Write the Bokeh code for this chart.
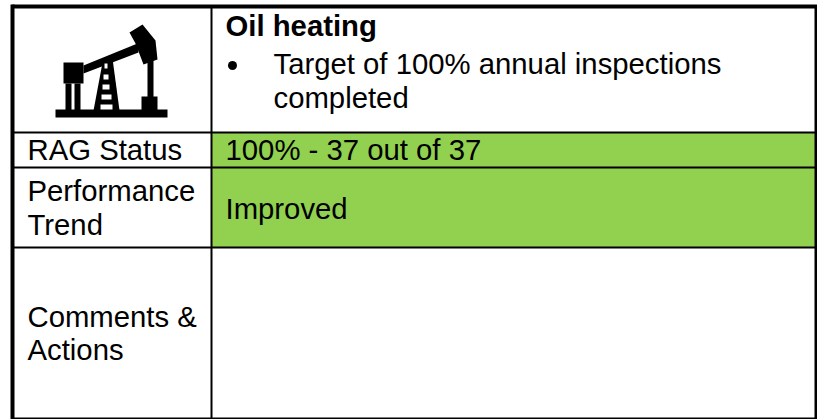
from bokeh.plotting import figure
from bokeh.models import Range1d
from bokeh.embed import file_html
from bokeh.resources import INLINE
from bokeh.core.properties import value

W, H = 817, 419

title = "Oil heating"
bullet_lines = ["Target of 100% annual inspections", "completed"]
row_labels = ["RAG Status", "Performance", "Trend", "Comments &", "Actions"]
rag_text = "100% - 37 out of 37"
trend_text = "Improved"
GREEN = "#92d050"
FONT = "Liberation Sans"

p = figure(width=W, height=H, output_backend="svg", toolbar_location=None,
           x_range=Range1d(0, W), y_range=Range1d(H, 0),
           min_border=0, outline_line_color=None)
p.axis.visible = False
p.grid.visible = False
p.background_fill_color = "white"
p.border_fill_color = "white"

# table geometry in page pixels
L, R, T, B = 12, 815.5, 6, 418
XM = 211
Y1, Y2, Y3 = 132, 167, 247

p.quad(left=[XM, XM], right=[R, R], top=[Y1, Y2], bottom=[Y2, Y3], fill_color=GREEN, line_color=None)

def seg(x0, y0, x1, y1, w):
    p.line([x0, x1], [y0, y1], line_color="black", line_width=w)

for y in (Y1, Y2, Y3):
    seg(L, y, R, y, 2)
seg(XM, T, XM, B, 2)
seg(L, T, R + 1.5, T, 4)
seg(L, B, R + 1.5, B, 2)
seg(L, T - 2, L, B + 1, 4)
seg(R, T, R, B + 1, 3)

# pump jack icon
ICON = [
    ([55, 167, 167, 55], [109, 109, 117, 117]),          # base
    ([63, 83, 83, 63], [62, 62, 83, 83]),                # box
    ([65, 71, 71, 65], [83, 83, 110, 110]),
    ([74, 80, 80, 74], [83, 83, 110, 110]),
    ([83, 137, 138, 83], [65, 43, 52, 73]),              # beam
    ([129, 142, 155, 157, 143, 135], [32, 24, 40, 59, 64, 43]),  # head
    ([147, 153, 153, 147], [58, 58, 97, 97]),            # rod
    ([141, 157, 157, 141], [96, 96, 110, 110]),          # foot
    ([102, 112, 119, 93], [62, 58, 110, 110]),           # derrick
]
for xs, ys in ICON:
    p.patch(xs, ys, fill_color="black", line_color=None)
for y0, y1, a, b in [(63, 68, 104, 107), (74, 79, 103, 108), (84, 89, 102, 109), (94, 99, 101, 111), (104, 109, 100, 112)]:
    p.quad(left=[a], right=[b], top=[y0], bottom=[y1], fill_color="white", line_color=None)

def txt(x, y, s, bold=False):
    p.text([x], [y - 10.5], text=[s], text_font=value(FONT), text_font_size="29.3px",
           text_color="black", text_baseline="alphabetic",
           text_font_style="bold" if bold else "normal")

txt(225, 35, title, True)
p.scatter([232], [65], size=9, fill_color="black", line_color=None)
txt(273, 73, bullet_lines[0])
txt(273, 107, bullet_lines[1])
txt(27, 159, row_labels[0])
txt(27, 200, row_labels[1])
txt(27, 234, row_labels[2])
txt(27, 326, row_labels[3])
txt(27, 359, row_labels[4])
txt(225, 159, rag_text)
txt(225, 218, trend_text)

open("out.html", "w").write(file_html(p, INLINE))
